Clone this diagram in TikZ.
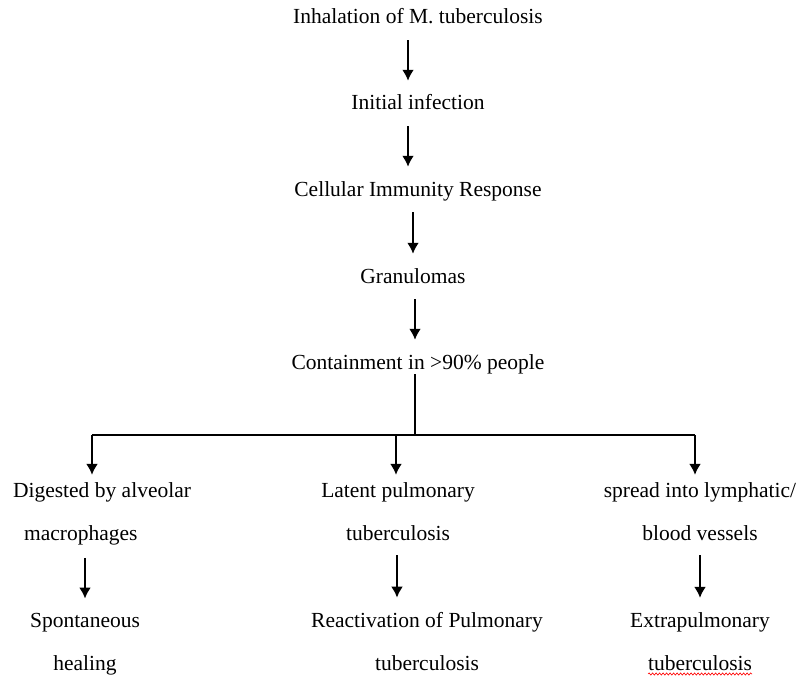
\documentclass[tikz,border=0pt]{standalone}
\usepackage{fontspec}
\setmainfont{Liberation Serif}
\usetikzlibrary{arrows.meta,positioning,decorations.pathmorphing}
\tikzset{
    basic/.style   = {inner sep=0pt, font=\fontsize{21.5}{43}\selectfont},
    stage/.style   = {basic, text height=15pt, text depth=5pt, anchor=base},
    outcome/.style = {basic, align=center, anchor=base},
    flow/.style    = {-{Latex[length=11pt,width=12pt]}, line width=2.6pt, shorten <=11pt, shorten >=14pt},
    link/.style    = {line width=1.8pt},
    spell/.style   = {red, line width=0.6pt, decorate, decoration={snake, amplitude=1.1pt, segment length=3.5pt}}
}
\begin{document}
\begin{tikzpicture}[x=1pt, y=-1pt]
	\useasboundingbox (0,0) rectangle (798,677);
		% main chain
		\node[stage] (inhale)   at (418,24)  {Inhalation of M. tuberculosis};
		\node[stage] (initial)  at (418,110) {Initial infection};
		\node[stage] (cellular) at (418,196) {Cellular Immunity Response};
		\node[stage] (granul)   at (413,283) {Granulomas};
		\node[stage] (contain)  at (418,369) {Containment in >90\% people};
		% branches (base = last line)
		\node[outcome, align=left] (digest) at (102,540) {Digested by alveolar\\\hspace*{11pt}macrophages};
		\node[outcome] (latent) at (398,540) {Latent pulmonary\\tuberculosis};
		\node[outcome] (spread) at (700,540) {spread into lymphatic/\\blood vessels};
		\node[outcome] (spont)  at (85,670)  {Spontaneous\\healing};
		\node[outcome] (react)  at (427,670) {Reactivation of Pulmonary\\tuberculosis};
		\node[outcome] (extra)  at (700,670) {Extrapulmonary\\tuberculosis};
		\draw[flow] ([xshift=-10pt]inhale.south) -- ([xshift=-10pt]initial.north);
		\draw[flow] ([xshift=-10pt]initial.south) -- ([xshift=-10pt]cellular.north);
		\draw[flow] ([xshift=-5pt]cellular.south) -- ([xshift=-5pt]cellular.south |- granul.north);
		\draw[flow] ([xshift=2pt]granul.south) -- ([xshift=-3pt]contain.north);
		% split
		\coordinate (split) at (415,435);
		\coordinate (left)  at (92,435);
		\coordinate (mid)   at (396,435);
		\coordinate (right) at (695,435);
		\draw[link] ([xshift=-3pt]contain.south) -- (split);
		\draw[link] (left) -- (right);
		\draw[flow, shorten <=0pt, shorten >=7pt] (left) -- (left |- digest.north);
		\draw[flow, shorten <=0pt, shorten >=7pt] (mid) -- (mid |- latent.north);
		\draw[flow, shorten <=0pt, shorten >=7pt] (right) -- (right |- spread.north);
		\draw[flow, shorten <=13pt] ([xshift=-17pt]digest.south) -- ([xshift=-17pt]digest.south |- spont.north);
		\draw[flow, shorten <=15pt] ([xshift=-1pt]latent.south) -- ([xshift=-1pt]latent.south |- react.north);
		\draw[flow, shorten <=15pt] (spread.south) -- (extra.north);
		\draw[spell] ([xshift=-52pt,yshift=-4pt]extra.base) -- ([xshift=52pt,yshift=-4pt]extra.base);
	\end{tikzpicture}
\end{document}
